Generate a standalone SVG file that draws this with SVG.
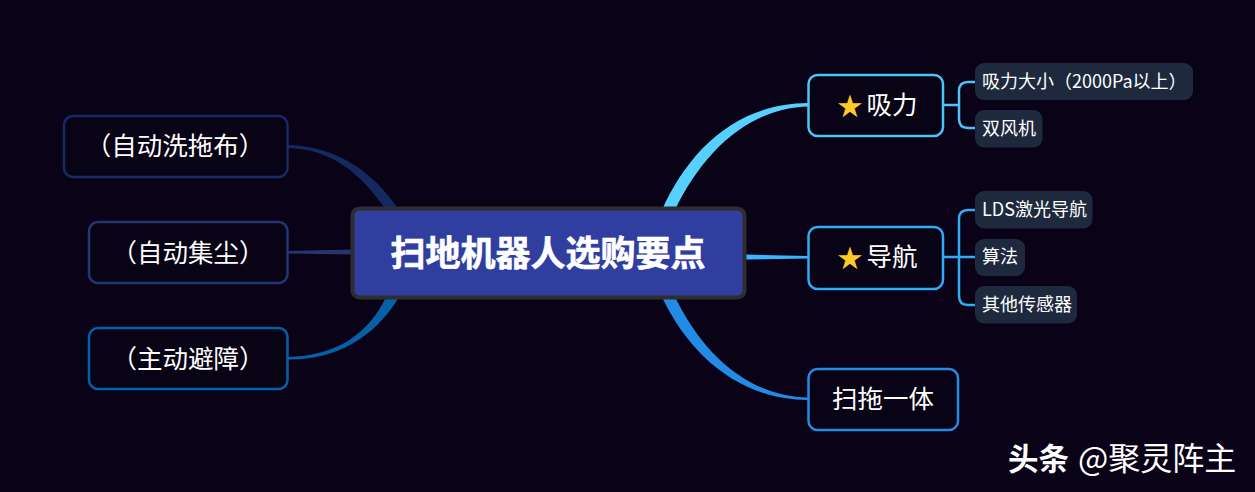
<svg xmlns="http://www.w3.org/2000/svg" width="1255" height="492" viewBox="0 0 1255 492">
<style>
text{font-family:"Noto Sans CJK SC","Liberation Sans",sans-serif;fill:#fff}
.t1{font-size:25.500px;text-anchor:middle}
.t2{font-size:18px}
.n{fill:#090316;stroke-width:2.500}
.s{fill:#1e293e}
.w{fill:none;stroke-width:2.500}
.star{font-family:"DejaVu Sans",sans-serif;fill:#ffca28;font-size:31px;text-anchor:middle}
</style>
<rect width="1255" height="492" fill="#0a0317"/>
<g id="connectors">
<path d="M662 210C688 152 735 103.500 808 103L808 106.500C750 108 704 150 675 210Z" fill="#55d0ff"/>
<path d="M746 254.500L808 256L808 258.500L746 259.500Z" fill="#3ab4ff"/>
<path d="M662 297C690 356 740 399.500 808 400L808 397.500C746 396 702 352 675 297Z" fill="#238ae6"/>
<path d="M288 145C335 146 372 170 399 210L386 210C360 172 330 149 288 148Z" fill="#15285f"/>
<path d="M288 251L352 249.500L352 254.500L288 253.500Z" fill="#26356f"/>
<path d="M288 357C335 356 368 335 386 297L399 297C375 338 335 360 288 359.500Z" fill="#0560a8"/>
<path class="w" stroke="#4fc3f7" d="M943 105H959M975 82H968Q959 82 959 91V119Q959 128 968 128H975"/>
<path class="w" stroke="#33aaf6" d="M943 257H975M975 210H968Q959 210 959 219V296Q959 305 968 305H975"/>
</g>
<g id="center">
<rect x="352.500" y="208.500" width="392" height="89" rx="7" fill="#303f9f" stroke="#2e2e2e" stroke-width="4"/>
<text x="548" y="266" font-size="35" font-weight="700" text-anchor="middle" stroke="#fff" stroke-width=".6">扫地机器人选购要点</text>
</g>
<g id="n-xili">
<rect class="n" x="808.500" y="75" width="134.500" height="61" rx="9" stroke="#4fc3f7"/>
<text class="star" x="850" y="117">★</text>
<text class="t1" x="892" y="114">吸力</text>
</g>
<g id="n-daohang">
<rect class="n" x="808.500" y="227" width="134.500" height="62" rx="9" stroke="#33aaf6"/>
<text class="star" x="850" y="269">★</text>
<text class="t1" x="892" y="266">导航</text>
</g>
<g id="n-tuo">
<rect class="n" x="808.500" y="369" width="149.500" height="61" rx="9" stroke="#238ae6"/>
<text class="t1" x="883" y="408">扫拖一体</text>
</g>
<g id="n-xi">
<rect class="n" x="64" y="116" width="223.500" height="61" rx="9" stroke="#172a63"/>
<text class="t1" x="175" y="155">（自动洗拖布）</text>
</g>
<g id="n-ji">
<rect class="n" x="89" y="222" width="198.500" height="61" rx="9" stroke="#233672"/>
<text class="t1" x="188" y="262">（自动集尘）</text>
</g>
<g id="n-bi">
<rect class="n" x="89" y="328" width="198.500" height="61" rx="9" stroke="#0560a8"/>
<text class="t1" x="188" y="368">（主动避障）</text>
</g>
<g id="s1"><rect class="s" x="975" y="63" width="218" height="37" rx="9"/><text class="t2" x="982" y="88">吸力大小（2000Pa以上）</text></g>
<g id="s2"><rect class="s" x="975" y="110" width="67.500" height="37.500" rx="9"/><text class="t2" x="982" y="135">双风机</text></g>
<g id="s3"><rect class="s" x="975" y="191" width="117.500" height="37.500" rx="9"/><text class="t2" x="982" y="216">LDS激光导航</text></g>
<g id="s4"><rect class="s" x="975" y="239" width="50" height="37" rx="9"/><text class="t2" x="982" y="263">算法</text></g>
<g id="s5"><rect class="s" x="975" y="286" width="102" height="37.500" rx="9"/><text class="t2" x="982" y="311">其他传感器</text></g>
<g id="watermark">
<text x="1008" y="470" font-size="30.500" font-weight="700">头条</text>
<text x="1078" y="470" font-size="32">@聚灵阵主</text>
</g>
</svg>
